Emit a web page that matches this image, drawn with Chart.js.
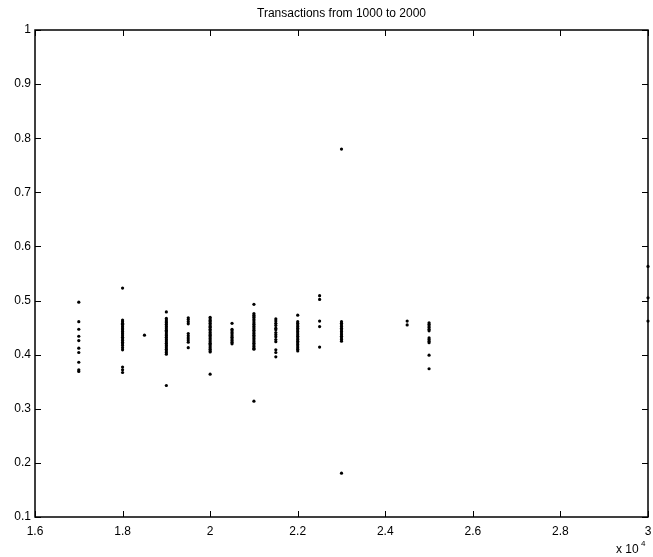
<!DOCTYPE html>
<html>
<head>
<meta charset="utf-8">
<script src="https://cdn.jsdelivr.net/npm/chart.js@4.4.0/dist/chart.umd.min.js"></script>
<style>
  body { margin: 0; background: #fff; }
  canvas { display: block; }
</style>
</head>
<body>
<canvas id="graph1" width="653" height="557"></canvas>
<script>
// x positions of the columns of transactions
let colX = [17000, 18000, 18500, 19000, 19500, 20000, 20500, 21000, 21500, 22000, 22500, 23000, 24500, 25000, 30000];

// y values for each column
let col17000 = [0.497, 0.461, 0.447, 0.434, 0.426, 0.412, 0.404, 0.386, 0.372, 0.369];
let col18000 = [0.523, 0.464, 0.461, 0.458, 0.456, 0.453, 0.451, 0.448, 0.446, 0.443, 0.440, 0.438, 0.435, 0.432, 0.429, 0.426, 0.423, 0.420, 0.417, 0.413, 0.409, 0.377, 0.372, 0.367];
let col18500 = [0.436];
let col19000 = [0.479, 0.467, 0.464, 0.461, 0.459, 0.456, 0.453, 0.451, 0.448, 0.445, 0.443, 0.440, 0.437, 0.435, 0.432, 0.429, 0.427, 0.424, 0.421, 0.418, 0.416, 0.413, 0.410, 0.407, 0.404, 0.401, 0.343];
let col19500 = [0.468, 0.465, 0.461, 0.457, 0.439, 0.435, 0.431, 0.427, 0.423, 0.413];
let col20000 = [0.469, 0.466, 0.463, 0.461, 0.458, 0.455, 0.452, 0.450, 0.447, 0.444, 0.441, 0.438, 0.436, 0.433, 0.430, 0.427, 0.424, 0.421, 0.419, 0.416, 0.413, 0.410, 0.407, 0.405, 0.364];
let col20500 = [0.458, 0.447, 0.444, 0.441, 0.438, 0.435, 0.432, 0.429, 0.426, 0.423, 0.420];
let col21000 = [0.493, 0.476, 0.473, 0.470, 0.468, 0.465, 0.462, 0.459, 0.456, 0.453, 0.451, 0.448, 0.445, 0.442, 0.439, 0.436, 0.433, 0.430, 0.427, 0.424, 0.421, 0.418, 0.415, 0.412, 0.410, 0.314];
let col21500 = [0.466, 0.462, 0.458, 0.454, 0.449, 0.446, 0.441, 0.437, 0.433, 0.428, 0.424, 0.409, 0.404, 0.396];
let col22000 = [0.473, 0.461, 0.458, 0.455, 0.452, 0.449, 0.446, 0.443, 0.440, 0.437, 0.434, 0.431, 0.428, 0.425, 0.422, 0.419, 0.416, 0.413, 0.410, 0.407];
let col22500 = [0.509, 0.502, 0.462, 0.452, 0.414];
let col23000 = [0.780, 0.461, 0.458, 0.455, 0.452, 0.449, 0.446, 0.443, 0.440, 0.437, 0.434, 0.431, 0.428, 0.425, 0.181];
let col24500 = [0.462, 0.455];
let col25000 = [0.459, 0.456, 0.453, 0.450, 0.447, 0.444, 0.431, 0.428, 0.425, 0.422, 0.399, 0.374];
let col30000 = [0.563, 0.505, 0.462];

let colY = [col17000, col18000, col18500, col19000, col19500, col20000, col20500, col21000, col21500, col22000, col22500, col23000, col24500, col25000, col30000];

// tick values
let xTicks = [16000, 18000, 20000, 22000, 24000, 26000, 28000, 30000];
let yTicks = [0.1, 0.2, 0.3, 0.4, 0.5, 0.6, 0.7, 0.8, 0.9, 1];

let titleText = 'Transactions from 1000 to 2000';
let fontName = '"Liberation Sans", Arial, sans-serif';

let points = [];
for (let i = 0; i < colX.length; i++) {
    for (let j = 0; j < colY[i].length; j++) {
        points.push({x: colX[i], y: colY[i][j]});
    }
}

function fmt(v) {
    return String(Number(v.toFixed(1)));
}

// box, inward ticks, title and the x 10^4 multiplier
let framePlugin = {
    id: 'frame',
    afterDraw: function (chart) {
        let ctx = chart.ctx;
        let a = chart.chartArea;
        let xs = chart.scales.x;
        let ys = chart.scales.y;
        let tick = 6;
        ctx.save();
        ctx.strokeStyle = '#000';
        ctx.lineWidth = 1;
        ctx.beginPath();
        for (let i = 0; i < xTicks.length; i++) {
            let px = Math.round(xs.getPixelForValue(xTicks[i])) + 0.5;
            ctx.moveTo(px, a.bottom);
            ctx.lineTo(px, a.bottom - tick);
            ctx.moveTo(px, a.top);
            ctx.lineTo(px, a.top + tick);
        }
        for (let i = 0; i < yTicks.length; i++) {
            let py = Math.round(ys.getPixelForValue(yTicks[i])) + 0.5;
            ctx.moveTo(a.left, py);
            ctx.lineTo(a.left + tick, py);
            ctx.moveTo(a.right, py);
            ctx.lineTo(a.right - tick, py);
        }
        ctx.stroke();
        ctx.lineWidth = 1.5;
        ctx.strokeRect(a.left, a.top, a.right - a.left, a.bottom - a.top);

        ctx.fillStyle = '#000';
        ctx.font = '12px ' + fontName;
        ctx.textAlign = 'center';
        ctx.textBaseline = 'alphabetic';
        ctx.fillText(titleText, (a.left + a.right) / 2, 17);

        ctx.textAlign = 'left';
        ctx.fillText('x 10', 616, 553);
        ctx.font = '8px ' + fontName;
        ctx.fillText('4', 641, 546);
        ctx.restore();
    }
};

let ctx = document.getElementById('graph1').getContext('2d');

let data = {
    datasets: [{
        label: 'Transactions',
        data: points,
        backgroundColor: '#000',
        borderColor: '#000',
        borderWidth: 0,
        pointRadius: 1.6,
        pointHoverRadius: 1.6,
        clip: {left: 0, top: 0, right: 3, bottom: 0}
    }]
};

let options = {
    responsive: false,
    animation: false,
    devicePixelRatio: 1,
    layout: {
        padding: {top: 30, right: 5, left: 0, bottom: 0}
    },
    plugins: {
        legend: {display: false},
        title: {display: false},
        tooltip: {enabled: false}
    },
    scales: {
        x: {
            type: 'linear',
            min: 16000,
            max: 30000,
            grid: {display: false, drawTicks: false},
            border: {display: false},
            ticks: {
                color: '#000',
                font: {size: 12, family: fontName},
                padding: 7,
                maxRotation: 0,
                callback: function (v) { return fmt(v / 10000); }
            },
            afterBuildTicks: function (scale) {
                scale.ticks = xTicks.map(function (v) { return {value: v}; });
            },
            afterFit: function (scale) {
                scale.height = 40;
                scale.paddingLeft = 0;
                scale.paddingRight = 0;
            }
        },
        y: {
            type: 'linear',
            min: 0.1,
            max: 1,
            grid: {display: false, drawTicks: false},
            border: {display: false},
            ticks: {
                color: '#000',
                font: {size: 12, family: fontName},
                padding: 4,
                callback: function (v) { return fmt(v); }
            },
            afterBuildTicks: function (scale) {
                scale.ticks = yTicks.map(function (v) { return {value: v}; });
            },
            afterFit: function (scale) { scale.width = 35; }
        }
    }
};

let config = {
    type: 'scatter',
    data: data,
    options: options,
    plugins: [framePlugin]
};

let graph1 = new Chart(ctx, config);
</script>
</body>
</html>
